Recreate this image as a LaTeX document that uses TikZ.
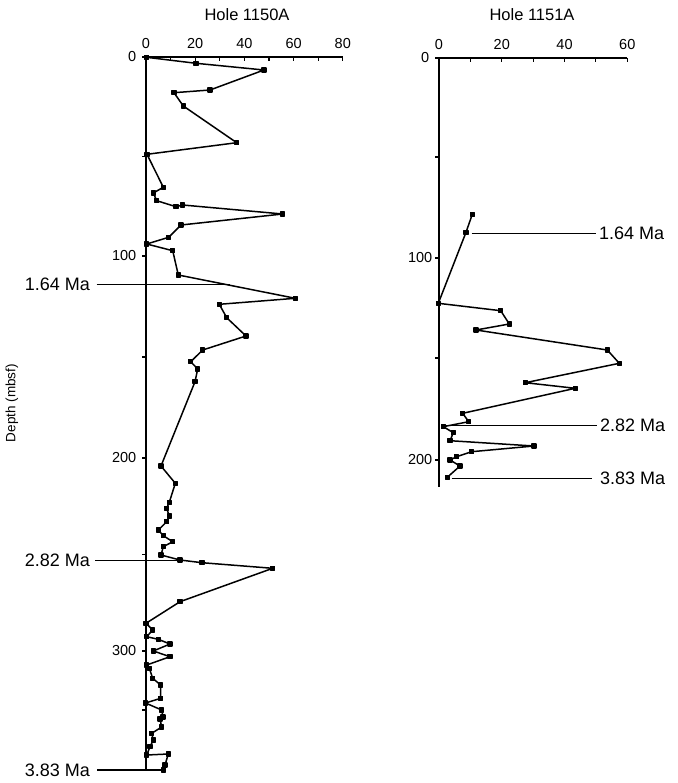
\documentclass[tikz,border=0pt]{standalone}
\usepackage{fontspec}
\setmainfont{Liberation Sans}
\usetikzlibrary{plotmarks}
\begin{document}
\begin{tikzpicture}[x=1pt,y=-1pt,
  axisline/.style={line width=1.3pt},
  tickline/.style={line width=1.1pt},
  dataline/.style={line width=1.5pt, line join=round, mark=square*, mark size=2pt, mark options={solid}},
  maline/.style={line width=1.4pt},
  ticklab/.style={font=\fontsize{14.5}{16}\selectfont, inner sep=0pt},
  malab/.style={font=\fontsize{18}{20}\selectfont, inner sep=0pt},
  titlelab/.style={font=\fontsize{16.5}{18}\selectfont, inner sep=0pt}]
\useasboundingbox (0,0) rectangle (677,783);
% titles
\node[titlelab] (t1) at (247,15) {Hole 1150A};
\node[titlelab] (t2) at (532,15) {Hole 1151A};
\node[font=\fontsize{13.5}{15}\selectfont, inner sep=0pt, rotate=90] (dl) at (12,403) {Depth (mbsf)};
% ---- left plot axes
\draw[axisline] (146,57) -- (343,57);
\draw[axisline] (146,57) -- (146,770);
\foreach \i in {0,...,8} {
  \pgfmathsetmacro\xx{146+\i*24.6}
  \draw[tickline] (\xx,57) -- (\xx,61.5);
}
\foreach \v/\xx in {0/146,20/195.2,40/244.4,60/293.6,80/342.8}
  \node[ticklab] at (\xx,44) {\v};
\foreach \yy in {57,156.5,256,357,458,554.5,651,710}
  \draw[tickline] (146,\yy) -- (142,\yy);
\node[ticklab, anchor=east] at (136.5,57) {0};
\node[ticklab, anchor=east] at (136.5,256) {100};
\node[ticklab, anchor=east] at (136.5,458) {200};
\node[ticklab, anchor=east] at (136.5,651) {300};
% left data
\draw[dataline] plot coordinates {
(146.5,57.3) (196,63.3) (264,70) (210,90) (174,92.7) (183.3,106) (236.7,142.7)
(147,154.3) (163.3,187.3) (153.3,193) (156.7,200.7) (176,206.7) (182.7,205)
(282.7,214) (181,225) (168.7,237.3) (146.7,244) (172.7,250.7) (178.3,275)
(295.3,298.3) (219.3,304.3) (226.7,317.7) (246,336) (202.7,350) (190.7,361.7)
(197.7,369) (195,381.7) (161,466) (175.3,483.3) (169.3,502.3) (166.7,508.3)
(169.3,516) (166.7,521.7) (158.3,530) (163.3,535.7) (172.7,541.7) (163.3,546.7)
(161,555) (180,560) (202,562.7) (272.7,568.3) (180,601.7) (146,623.3)
(152.7,630) (146.7,636.7) (158.3,639.3) (170,644) (153.3,651) (170,656.7)
(146.7,665) (149.3,668.3) (152.7,678.3) (160.7,685) (160.7,698.3) (145.5,703)
(161.7,710) (163,717) (160,719) (161.7,727) (151.7,733.3) (153.3,740)
(150,746.7) (146.7,755) (168.3,754) (165,765) (163.3,770)};
% left Ma markers
\coordinate (la1) at (96.7,284.3); \coordinate (lb1) at (230,284.3);
\coordinate (la2) at (95,560.7); \coordinate (lb2) at (180,560.7);
\coordinate (la3) at (97,770); \coordinate (lb3) at (163,770);
\draw[maline] (la1) -- (lb1);
\draw[maline] (la2) -- (lb2);
\draw[maline] (la3) -- (lb3);
\node[malab, anchor=east] (m1) at (90,284.3) {1.64 Ma};
\node[malab, anchor=east] (m2) at (90,560.7) {2.82 Ma};
\node[malab, anchor=east] (m3) at (90,770) {3.83 Ma};
% ---- right plot axes
\draw[axisline] (439,58) -- (627.3,58);
\draw[axisline] (439,58) -- (439,487);
\foreach \i in {0,...,6} {
  \pgfmathsetmacro\xx{439+\i*31.38}
  \draw[tickline] (\xx,58) -- (\xx,62.5);
}
\foreach \v/\xx in {0/439,20/501.8,40/564.5,60/627.3}
  \node[ticklab] at (\xx,45) {\v};
\foreach \yy in {58,157,258,358,460}
  \draw[tickline] (439,\yy) -- (435,\yy);
\node[ticklab, anchor=east] at (429.5,58) {0};
\node[ticklab, anchor=east] at (432.5,258) {100};
\node[ticklab, anchor=east] at (432.5,460) {200};
% right data
\draw[dataline] plot coordinates {
(472.3,214.3) (466,232.3) (438.3,303.3) (500.7,310.7) (509.3,324) (476,330)
(607.3,350) (619.3,363.3) (525.3,382.7) (575.3,388.3) (462.7,413.3) (468.7,421.7)
(443.3,426.7) (453.3,432.7) (450,440.7) (534,446) (471.7,451.7) (456.7,456.7)
(450,460) (460,466) (447.3,477.3)};
\coordinate (ra1) at (471.7,233.3); \coordinate (rb1) at (596,233.3);
\coordinate (ra2) at (443.3,425.7); \coordinate (rb2) at (596.7,425.7);
\coordinate (ra3) at (451.7,478.3); \coordinate (rb3) at (591.7,478.3);
\draw[maline] (ra1) -- (rb1);
\draw[maline] (ra2) -- (rb2);
\draw[maline] (ra3) -- (rb3);
\node[malab, anchor=west] (n1) at (599,233.3) {1.64 Ma};
\node[malab, anchor=west] (n2) at (600,425.7) {2.82 Ma};
\node[malab, anchor=west] (n3) at (600,478.3) {3.83 Ma};
\end{tikzpicture}
\end{document}
